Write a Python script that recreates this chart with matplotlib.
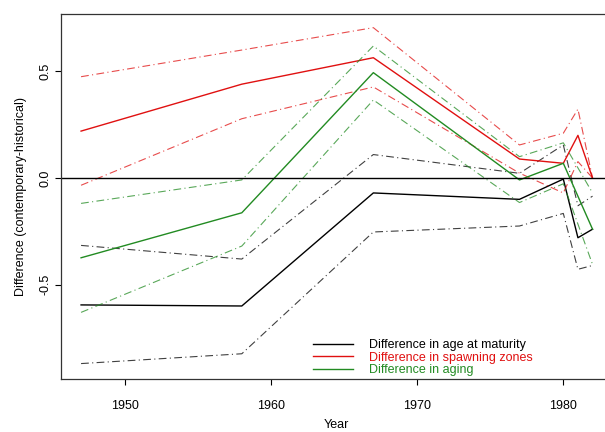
import numpy as np
import matplotlib
matplotlib.use("Agg")
import matplotlib.pyplot as plt

plt.rcParams['font.family'] = ['Liberation Sans', 'DejaVu Sans']

# years sampled for each series
years = [1947, 1958, 1967, 1977, 1980, 1981, 1982]
years_aging = [1947, 1958, 1967, 1977, 1980, 1982]

# difference in age at maturity (estimate, upper and lower bound)
maturity = [-0.595, -0.60, -0.07, -0.10, -0.005, -0.28, -0.24]
maturity_hi = [-0.316, -0.38, 0.11, 0.022, 0.155, -0.13, -0.085]
maturity_lo = [-0.87, -0.824, -0.253, -0.225, -0.166, -0.428, -0.41]

# difference in spawning zones
spawning = [0.22, 0.44, 0.564, 0.089, 0.069, 0.20, 0.0]
spawning_hi = [0.475, 0.60, 0.705, 0.155, 0.21, 0.323, 0.0]
spawning_lo = [-0.034, 0.278, 0.427, 0.023, -0.07, 0.077, 0.0]

# difference in aging
aging = [-0.374, -0.163, 0.494, -0.009, 0.069, -0.24]
aging_hi = [-0.119, -0.009, 0.619, 0.10, 0.165, -0.07]
aging_lo = [-0.63, -0.319, 0.366, -0.115, -0.027, -0.405]

labels = ['Difference in age at maturity',
          'Difference in spawning zones',
          'Difference in aging']
colors = ['black', '#e01010', '#228B22']

W, H = 605, 432
fig = plt.figure(figsize=(W / 100, H / 100), dpi=100)
# plot region runs a little past the right edge of the picture
left, right, top, bottom = 60.6, 613.0, 14.0, 378.5
ax = fig.add_axes([left / W, 1 - bottom / H, (right - left) / W, (bottom - top) / H])

ci_style = dict(lw=0.8, alpha=0.75, linestyle=(0, (7, 3, 1, 3)))

series = [
    (years, maturity, maturity_hi, maturity_lo),
    (years, spawning, spawning_hi, spawning_lo),
    (years_aging, aging, aging_hi, aging_lo),
]
for (x, est, hi, lo), col, lab in zip(series, colors, labels):
    ax.plot(x, est, color=col, lw=1.0, label=lab)
    ax.plot(x, hi, color=col, **ci_style)
    ax.plot(x, lo, color=col, **ci_style)

ax.axhline(0, color='black', lw=1.0)

ax.set_xlim(1945.6, 1983.4)
ax.set_ylim(-0.94, 0.769)
ax.set_xticks([1950, 1960, 1970, 1980])
ax.set_yticks([-0.5, 0.0, 0.5])
ax.set_yticklabels(['-0.5', '0.0', '0.5'], rotation=90, va='center')
ax.tick_params(direction='out', length=4.5, width=0.8, labelsize=9, colors='black')
ax.tick_params(axis='x', pad=11)
ax.tick_params(axis='y', pad=2)
for sp in ax.spines.values():
    sp.set_linewidth(0.9)
    sp.set_color('#333333')

ax.set_xlabel('Year', fontsize=9, labelpad=5)
ax.set_ylabel('Difference (contemporary-historical)', fontsize=9, labelpad=9)

leg = ax.legend(loc='upper left', bbox_to_anchor=(313 / W, 1 - 339 / H),
                bbox_transform=fig.transFigure, frameon=False, fontsize=9,
                handlelength=3.2, handletextpad=1.3, labelspacing=0.05,
                borderpad=0, borderaxespad=0, labelcolor='linecolor')

fig.savefig('out.png', dpi=100)
